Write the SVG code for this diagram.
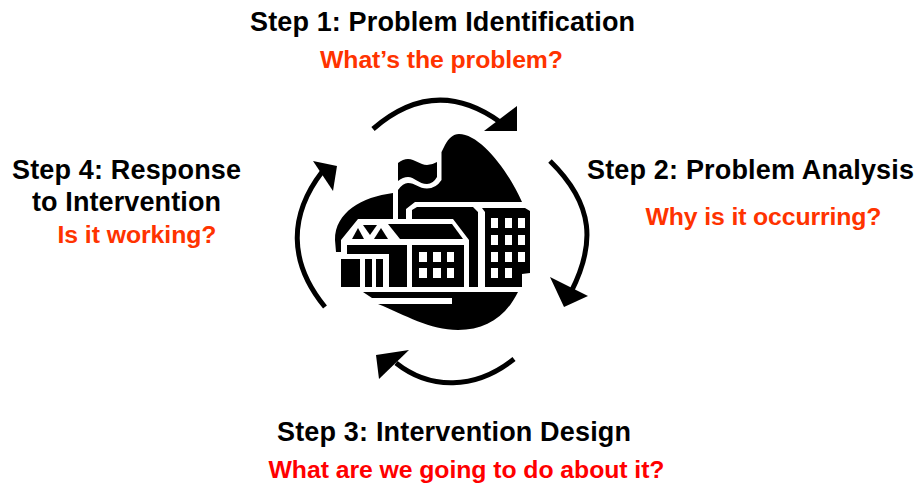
<svg xmlns="http://www.w3.org/2000/svg" width="917" height="483" viewBox="0 0 917 483">
<style>
text{font-family:"Liberation Sans",Arial,sans-serif;font-weight:700}
.h{font-size:27px;fill:#000}
.o{font-size:24.800px;fill:#f30}
.r{font-size:24.800px;fill:#f00}
.arc{fill:none;stroke:#000;stroke-width:5}
.k{fill:#000}
.w{fill:#fff}
</style>
<rect width="917" height="483" fill="#fff"/>
<g id="connectors">
<path class="arc" d="M373,129 Q435,75 500,122"/>
<polygon class="k" points="517,106 517,131 484,131"/>
<path class="arc" d="M550,161 C595,205 595,245 571,292"/>
<polygon class="k" points="550,277 588,296 564,307"/>
<path class="arc" d="M514,359 C475,390 430,390 396,363"/>
<polygon class="k" points="409,350 376,355 379,379"/>
<path class="arc" d="M325,307 C288,262 289,215 322,172"/>
<polygon class="k" points="313,161 337,166 333,191"/>
</g>
<g id="school">
<path class="k" d="M393,193 C362,197 335,212 335,240 L336,252 L341,252 L341,240 L358,219 L393,219 Z"/>
<path class="k" d="M441.500,152 L445,145 C449,138 453,134 459,134 C480,134 508,170 522,202 L415,202 L406,209 L406,219 L398,219 L398,190 Q403,183 408,183 C415,183 419,188.500 427,188.500 Q436,188.500 441.500,180 Z"/>
<path class="k" d="M398,163 Q403,159 408,159 C415,159 420,165 427,165 Q432,165 437,162 L437,177 Q433,184 427,184 C419,184 414,177 408,177 Q403,177 398,181 Z"/>
<path class="k" d="M412,219 L412,210 L417,207 L473,207 L478,212 L478,287 L469,287 L469,240 L453,219 Z"/>
<polygon class="k" points="388,224 452,224 463,239 400,239"/>
<polygon class="k" points="363,225 377,225 370,235"/>
<polygon class="k" points="358,228 364,239 352,239"/>
<polygon class="k" points="381,228 388,239 374,239"/>
<polygon class="k" points="347,245 407,245 407,287 389,287 389,254 347,254"/>
<rect class="k" x="341" y="259" width="19" height="28"/>
<rect class="k" x="365" y="259" width="7" height="28"/>
<rect class="k" x="376" y="259" width="7" height="28"/>
<rect class="k" x="412" y="245" width="52" height="42"/>
<rect class="w" x="419" y="252" width="8" height="10"/>
<rect class="w" x="433" y="252" width="8" height="10"/>
<rect class="w" x="447" y="252" width="7" height="10"/>
<rect class="w" x="419" y="268" width="8" height="10"/>
<rect class="w" x="433" y="268" width="8" height="10"/>
<rect class="w" x="447" y="268" width="7" height="10"/>
<polygon class="k" points="482,208 525,208 530,211 530,273 522,274 522,287 485,287 485,212"/>
<rect class="w" x="491" y="218" width="7" height="10"/>
<rect class="w" x="505" y="218" width="7" height="10"/>
<rect class="w" x="518" y="218" width="7" height="10"/>
<rect class="w" x="491" y="235" width="7" height="10"/>
<rect class="w" x="505" y="235" width="7" height="10"/>
<rect class="w" x="518" y="235" width="7" height="10"/>
<rect class="w" x="491" y="252" width="7" height="10"/>
<rect class="w" x="505" y="252" width="7" height="10"/>
<rect class="w" x="518" y="252" width="7" height="10"/>
<rect class="w" x="491" y="268" width="7" height="10"/>
<rect class="w" x="505" y="268" width="7" height="10"/>
<path class="k" d="M363,292 L518,292 C505,318 485,330 458,330 C430,330 405,315 378,304 L452,304 L452,298 L372,298 Z"/>
</g>
<g id="step1">
<text class="h" x="250" y="31" textLength="385">Step 1: Problem Identification</text>
<text class="o" x="320" y="68" textLength="243">What’s the problem?</text>
</g>
<g id="step2">
<text class="h" x="587" y="179" textLength="327">Step 2: Problem Analysis</text>
<text class="o" x="645.500" y="225" textLength="236">Why is it occurring?</text>
</g>
<g id="step3">
<text class="h" x="277" y="441" textLength="354">Step 3: Intervention Design</text>
<text class="r" x="268.500" y="478" textLength="396">What are we going to do about it?</text>
</g>
<g id="step4">
<text class="h" x="12" y="179" textLength="229">Step 4: Response</text>
<text class="h" x="32" y="211" textLength="189">to Intervention</text>
<text class="o" x="57.500" y="243" textLength="159">Is it working?</text>
</g>
</svg>
